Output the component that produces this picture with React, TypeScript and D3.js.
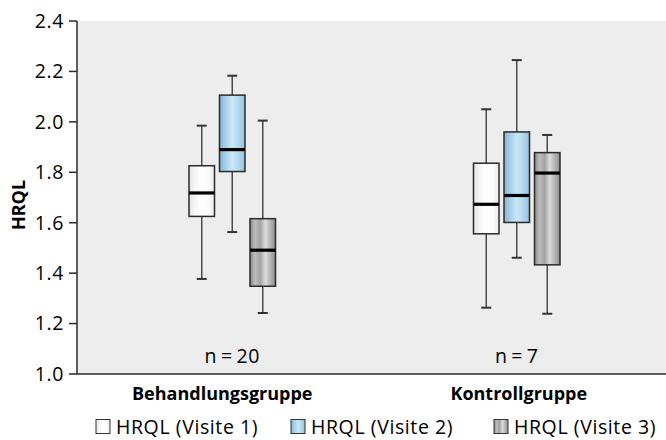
import React from 'react';
import * as d3 from 'd3';

const groups = ['Behandlungsgruppe', 'Kontrollgruppe'];
const groupN = ['n = 20', 'n = 7'];
const visits = ['HRQL (Visite 1)', 'HRQL (Visite 2)', 'HRQL (Visite 3)'];
const yTicks = [1.0, 1.2, 1.4, 1.6, 1.8, 2.0, 2.2, 2.4];

// [whiskerLow, q1, median, q3, whiskerHigh] per visit
const behandlung = [
  [1.377, 1.625, 1.718, 1.826, 1.985],
  [1.563, 1.803, 1.89, 2.106, 2.183],
  [1.242, 1.348, 1.491, 1.616, 2.005],
];
const kontrolle = [
  [1.263, 1.556, 1.673, 1.836, 2.05],
  [1.461, 1.601, 1.708, 1.96, 2.245],
  [1.239, 1.433, 1.797, 1.878, 1.948],
];
const stats = [behandlung, kontrolle];

const gradients = [
  { id: 'g1', stops: ['#e6e6e6', '#f6f6f6', '#ffffff', '#fbfbfb', '#ececec'] },
  { id: 'g2', stops: ['#86b5d4', '#a9d0e9', '#c8e8f9', '#b3d8ee', '#93bfdc'] },
  { id: 'g3', stops: ['#8a8a8a', '#bdbdbd', '#a2a2a2', '#dcdcdc', '#b4b4b4', '#8e8e8e'] },
];

const W = 666;
const H = 440;
const left = 77;
const top = 21;
const bottom = 374;
const fontReg = { fontFamily: '"Open Sans", sans-serif', fontSize: 19.5, letterSpacing: 0.6, fill: '#000' };
const fontBold = { fontFamily: '"Open Sans", sans-serif', fontSize: 18, fontWeight: 700, fill: '#000' };
const labelNudge = [-10, 2];

export default function App() {
  const y = d3.scaleLinear().domain([1.0, 2.4]).range([bottom, top]);
  const gx = d3.scalePoint<string>().domain(groups).range([90, 659]).padding(0.5);
  const vx = d3.scaleBand<string>().domain(visits).range([-43.25, 43.25]).paddingInner(0.164);
  const bw = vx.bandwidth();
  const fmt = d3.format('.1f');

  return (
    <svg width={W} height={H} style={{ position: 'absolute', left: 0, top: 0, background: '#fff' }}>
      <defs>
        {gradients.map((g) => (
          <linearGradient key={g.id} id={g.id} x1="0" x2="1" y1="0" y2="0">
            {g.stops.map((c, i) => (
              <stop key={i} offset={i / (g.stops.length - 1)} stopColor={c} />
            ))}
          </linearGradient>
        ))}
      </defs>
      <rect x={left} y={top} width={W - left} height={bottom - top} fill="#ededed" />

      {groups.map((grp, gi) => {
        const cx0 = gx(grp)!;
        return (
          <g key={grp}>
            {visits.map((v, vi) => {
              const [lo, q1, med, q3, hi] = stats[gi][vi];
              const x0 = cx0 + vx(v)!;
              const cx = x0 + bw / 2;
              return (
                <g key={v}>
                  <line x1={cx} x2={cx} y1={y(hi)} y2={y(q3)} stroke="#4a4a4a" strokeWidth={1.5} />
                  <line x1={cx} x2={cx} y1={y(q1)} y2={y(lo)} stroke="#4a4a4a" strokeWidth={1.5} />
                  <line x1={cx - 5} x2={cx + 5} y1={y(hi)} y2={y(hi)} stroke="#333" strokeWidth={2} />
                  <line x1={cx - 5} x2={cx + 5} y1={y(lo)} y2={y(lo)} stroke="#333" strokeWidth={2} />
                  <rect x={x0} y={y(q3)} width={bw} height={y(q1) - y(q3)} fill={`url(#${gradients[vi].id})`} stroke="#2a2a2a" strokeWidth={1.5} />
                  <line x1={x0} x2={x0 + bw} y1={y(med)} y2={y(med)} stroke="#000" strokeWidth={3.2} />
                </g>
              );
            })}
            <text x={cx0} y={363} textAnchor="middle" style={fontReg}>
              {groupN[gi].replace(/ /g, '\u2009')}
            </text>
            <text x={cx0 + labelNudge[gi]} y={400} textAnchor="middle" style={fontBold}>
              {grp}
            </text>
          </g>
        );
      })}

      <line x1={left} x2={left} y1={top} y2={bottom} stroke="#2a2a2a" strokeWidth={1.5} />
      <line x1={left} x2={W} y1={bottom} y2={bottom} stroke="#2a2a2a" strokeWidth={1.5} />
      {yTicks.map((t) => (
        <g key={t}>
          <line x1={left - 8} x2={left} y1={y(t)} y2={y(t)} stroke="#2a2a2a" strokeWidth={1.5} />
          <text x={64} y={y(t)} dy="0.35em" textAnchor="end" style={fontReg}>{fmt(t)}</text>
        </g>
      ))}
      <text transform={`translate(25,${205}) rotate(-90)`} textAnchor="middle" style={fontBold}>
        HRQL
      </text>

      {visits.map((v, i) => {
        const lx = [96, 291, 494][i];
        return (
          <g key={v}>
            <rect x={lx} y={419.5} width={14} height={14} fill={`url(#${gradients[i].id})`} stroke="#333" strokeWidth={1} />
            <text x={lx + 20} y={434} style={fontReg}>{v}</text>
          </g>
        );
      })}
    </svg>
  );
}
